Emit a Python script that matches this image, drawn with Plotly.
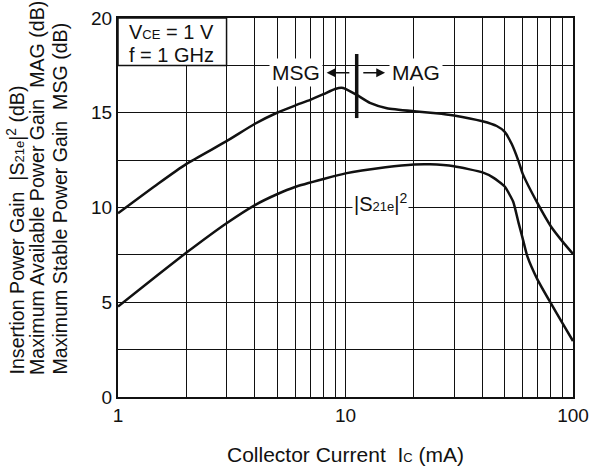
import plotly.graph_objects as go
import math

# ---- data ----
ic_mag = [1, 1.5, 2, 3, 4, 5, 6, 7, 8, 9, 9.6, 10, 11.2, 12.8, 15.2, 20, 25, 30, 40, 46.2, 50, 53.8, 57.6, 60, 70, 80, 90, 100]
g_mag = [9.69, 11.25, 12.3, 13.5, 14.42, 15.0, 15.38, 15.68, 15.98, 16.25, 16.32, 16.26, 15.94, 15.52, 15.24, 15.08, 14.98, 14.86, 14.55, 14.3, 14.0, 13.35, 12.45, 11.8, 10.2, 9.0, 8.2, 7.55]

ic_s21 = [1, 1.5, 2, 3, 4, 5, 6, 8, 10, 15, 20, 23.5, 30, 40, 44.6, 50, 54.6, 57.6, 60, 62.9, 70, 80, 90, 100]
g_s21 = [4.77, 6.45, 7.62, 9.17, 10.13, 10.7, 11.08, 11.5, 11.8, 12.12, 12.27, 12.28, 12.18, 11.85, 11.58, 11.12, 10.3, 9.2, 8.4, 7.45, 6.17, 4.94, 3.89, 2.95]

boundary_ic = [11.2, 11.2]
boundary_g = [14.72, 18.1]

x_tickvals = [1, 2, 3, 4, 5, 6, 7, 8, 9, 10, 20, 30, 40, 50, 60, 70, 80, 90, 100]
x_ticktext = ["1", "", "", "", "", "", "", "", "", "10", "", "", "", "", "", "", "", "", "100"]
y_tickvals = [0, 2.5, 5, 7.5, 10, 12.5, 15, 17.5, 20]
y_ticktext = ["0", "", "5", "", "10", "", "15", "", "20"]

FONT = "Liberation Sans, Arial, sans-serif"
BLACK = "#111111"

fig = go.Figure()

fig.add_trace(go.Scatter(x=ic_mag, y=g_mag, mode="lines",
                         line=dict(color=BLACK, width=2.5, shape="spline", smoothing=0.5),
                         showlegend=False, hoverinfo="skip"))
fig.add_trace(go.Scatter(x=ic_s21, y=g_s21, mode="lines",
                         line=dict(color=BLACK, width=2.5, shape="spline", smoothing=0.5),
                         showlegend=False, hoverinfo="skip"))
fig.add_trace(go.Scatter(x=boundary_ic, y=boundary_g, mode="lines",
                         line=dict(color=BLACK, width=3.5),
                         showlegend=False, hoverinfo="skip"))

# condition box in the top-left grid cells
fig.add_shape(type="rect", xref="x", yref="y", x0=1, x1=3, y0=17.5, y1=20,
              fillcolor="white", line=dict(color=BLACK, width=1.5), layer="above")

small = "font-size:13px"
ann = []
ann.append(dict(x=math.log10(1.09), y=19.26, xref="x", yref="y", xanchor="left", yanchor="middle",
                text=f"V<span style='{small}'>CE</span> = 1 V", showarrow=False,
                font=dict(size=20, family=FONT, color=BLACK)))
ann.append(dict(x=math.log10(1.09), y=18.05, xref="x", yref="y", xanchor="left", yanchor="middle",
                text="f = 1 GHz", showarrow=False,
                font=dict(size=20, family=FONT, color=BLACK)))
# MSG / MAG labels
ann.append(dict(x=0.782, y=17.11, xref="x", yref="y", text="MSG", showarrow=False,
                bgcolor="white", borderpad=2, font=dict(size=21, family=FONT, color=BLACK)))
ann.append(dict(x=1.31, y=17.11, xref="x", yref="y", text="MAG", showarrow=False,
                bgcolor="white", borderpad=2, font=dict(size=21, family=FONT, color=BLACK)))
# arrows
ann.append(dict(x=0.917, y=17.11, ax=1.03, ay=17.11, xref="x", yref="y", axref="x", ayref="y",
                text=" ", showarrow=True, arrowhead=2, arrowsize=1.1, arrowwidth=1.6, arrowcolor=BLACK))
ann.append(dict(x=1.174, y=17.11, ax=1.065, ay=17.11, xref="x", yref="y", axref="x", ayref="y",
                text=" ", showarrow=True, arrowhead=2, arrowsize=1.1, arrowwidth=1.6, arrowcolor=BLACK))
# |S21e|^2 label
ann.append(dict(x=1.152, y=10.24, xref="x", yref="y", showarrow=False, bgcolor="white", borderpad=1,
                text=f"|S<span style='{small}'>21e</span>|<sup>2</sup>",
                font=dict(size=20, family=FONT, color=BLACK)))
# y axis title, three lines
ytitles = [
    f"Insertion Power Gain  |S<span style='{small}'>21e</span>|<sup>2</sup> (dB)",
    "Maximum Available Power Gain  MAG (dB)",
    "Maximum Stable Power Gain  MSG (dB)",
]
for px, t in zip([15, 37, 59.5], ytitles):
    ann.append(dict(x=(px - 118) / 455, y=(397 - 377) / 379, xref="paper", yref="paper",
                    xanchor="center", yanchor="bottom", textangle=-90, text=t, showarrow=False,
                    font=dict(size=19.6, family=FONT, color=BLACK)))
# x axis title
ann.append(dict(x=0.5, y=(397 - 454) / 379, xref="paper", yref="paper", xanchor="center", yanchor="middle",
                text=f"Collector Current  I<span style='{small}'>C</span> (mA)", showarrow=False,
                font=dict(size=21, family=FONT, color=BLACK)))

fig.update_layout(
    width=591, height=471,
    margin=dict(l=118, r=18, t=18, b=74, autoexpand=False),
    paper_bgcolor="white", plot_bgcolor="white",
    annotations=ann,
    font=dict(family=FONT, color=BLACK),
    xaxis=dict(type="log", range=[0, 2], tickvals=x_tickvals, ticktext=x_ticktext, automargin=False,
               showgrid=True, gridcolor=BLACK, gridwidth=1.4, zeroline=False,
               showline=True, linecolor=BLACK, linewidth=2, mirror=True, ticks="",
               tickfont=dict(size=19, family=FONT, color=BLACK)),
    yaxis=dict(range=[0, 20], tickvals=y_tickvals, ticktext=y_ticktext, automargin=False,
               showgrid=True, gridcolor=BLACK, gridwidth=1.4, zeroline=False,
               showline=True, linecolor=BLACK, linewidth=2, mirror=True, ticks="",
               tickfont=dict(size=19, family=FONT, color=BLACK)),
)

fig.write_html("out.html")
